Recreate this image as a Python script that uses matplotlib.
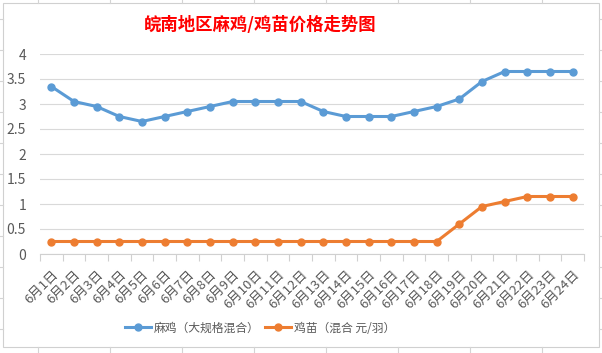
import matplotlib
matplotlib.use('Agg')
import matplotlib.pyplot as plt
from matplotlib.patches import Rectangle
from matplotlib.lines import Line2D

plt.rcParams['font.family'] = ['Noto Sans CJK SC', 'DejaVu Sans']

# data
days = [f'6月{d}日' for d in range(1, 25)]
maji = [3.35, 3.05, 2.95, 2.75, 2.65, 2.75, 2.85, 2.95, 3.05, 3.05, 3.05, 3.05,
        2.85, 2.75, 2.75, 2.75, 2.85, 2.95, 3.1, 3.45, 3.65, 3.65, 3.65, 3.65]
jimiao = [0.25] * 18 + [0.6, 0.95, 1.05, 1.15, 1.15, 1.15]
yticks = [0, 0.5, 1, 1.5, 2, 2.5, 3, 3.5, 4]

W, H = 602, 353
fig = plt.figure(figsize=(W / 100, H / 100), dpi=100)

# spreadsheet grid stubs outside the chart box
for x in range(38, W, 72):
    fig.add_artist(Line2D([x / W, x / W], [1, 1 - 3 / H], color='#d4d4d4', lw=0.8))
    fig.add_artist(Line2D([x / W, x / W], [0, 1 - 347 / H], color='#d4d4d4', lw=0.8))
for y in range(19, H, 31):
    fig.add_artist(Line2D([0, 3 / W], [1 - y / H, 1 - y / H], color='#d4d4d4', lw=0.8))
    fig.add_artist(Line2D([599 / W, 1], [1 - y / H, 1 - y / H], color='#d4d4d4', lw=0.8))

# chart border
fig.add_artist(Rectangle((3 / W, 1 - 347 / H), 596 / W, 344 / H, fill=False,
                         edgecolor='#d0d0d0', lw=0.8))

ax = fig.add_axes([40 / W, 1 - 254 / H, 544 / W, 200 / H])
x = list(range(len(days)))
ax.plot(x, maji, color='#5B9BD5', lw=2.2, marker='o', ms=5, label='麻鸡（大规格混合）')
ax.plot(x, jimiao, color='#ED7D31', lw=2.2, marker='o', ms=5, label='鸡苗（混合 元/羽）')

ax.set_xlim(-0.5, len(days) - 0.5)
ax.set_ylim(0, 4)
ax.set_yticks(yticks)
ax.set_yticklabels([f'{v:g}' for v in yticks])
ax.set_xticks(x)
ax.set_xticklabels(days, rotation=45, ha='right', rotation_mode='anchor')
ax.set_xticks([i - 0.5 for i in range(len(days) + 1)], minor=True)
ax.tick_params(axis='x', which='major', length=0, pad=10, labelsize=9.5, labelcolor='#595959')
ax.tick_params(axis='x', which='minor', length=5, color='#d0d0d0', width=0.8)
ax.tick_params(axis='y', length=0, pad=10, labelsize=10, labelcolor='#595959')
ax.grid(axis='y', color='#d9d9d9', lw=0.8)
ax.set_axisbelow(True)
for s in ['top', 'right', 'left']:
    ax.spines[s].set_visible(False)
ax.spines['bottom'].set_color('#d0d0d0')
ax.spines['bottom'].set_linewidth(0.8)

fig.text(260 / W, 1 - 25 / H, '皖南地区麻鸡/鸡苗价格走势图', color='#ff0000',
         fontsize=12.5, fontweight='bold', ha='center', va='center')

fig.legend(loc='center', bbox_to_anchor=(260 / W, 1 - 328 / H), ncol=2, frameon=False,
           fontsize=8.5, labelcolor='#595959', handlelength=2.2, columnspacing=0.5,
           handletextpad=0.2)

fig.savefig('out.png', dpi=100, facecolor='white')
